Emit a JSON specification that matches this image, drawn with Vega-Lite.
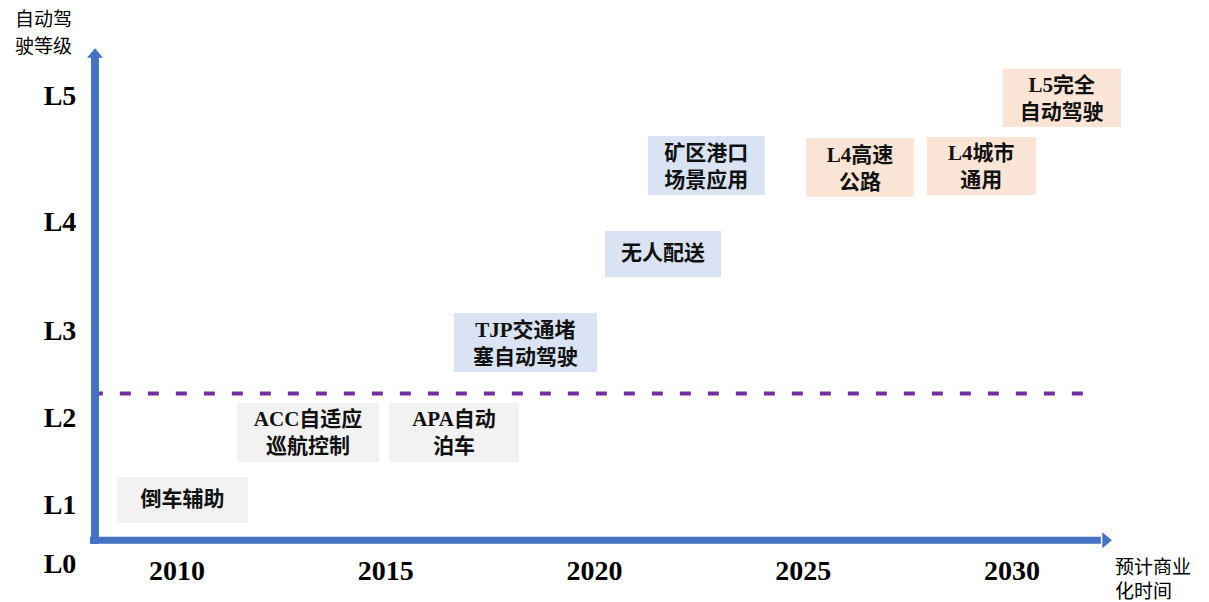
{
  "$schema": "https://vega.github.io/schema/vega-lite/v6.json",
  "width": 1209,
  "height": 602,
  "autosize": {"type": "none"},
  "padding": 0,
  "background": "white",
  "config": {"view": {"stroke": null}},
  "datasets": {
    "boxes": [
      {"label": "倒车辅助", "group": "辅助驾驶", "x0": 2008.56, "x1": 2011.70, "y0": 0.712, "y1": 1.333, "xc": 2010.13, "yc": 1.069},
      {"label": "ACC自适应\n巡航控制", "group": "辅助驾驶", "x0": 2011.44, "x1": 2014.84, "y0": 1.506, "y1": 2.184, "xc": 2013.14, "yc": 1.845},
      {"label": "APA自动\n泊车", "group": "辅助驾驶", "x0": 2015.08, "x1": 2018.19, "y0": 1.506, "y1": 2.184, "xc": 2016.635, "yc": 1.845},
      {"label": "TJP交通堵\n塞自动驾驶", "group": "场景应用", "x0": 2016.63, "x1": 2020.06, "y0": 2.540, "y1": 3.174, "xc": 2018.345, "yc": 2.879},
      {"label": "无人配送", "group": "场景应用", "x0": 2020.25, "x1": 2023.03, "y0": 3.505, "y1": 3.927, "xc": 2021.64, "yc": 3.716},
      {"label": "矿区港口\n场景应用", "group": "场景应用", "x0": 2021.28, "x1": 2024.08, "y0": 4.222, "y1": 4.690, "xc": 2022.68, "yc": 4.456},
      {"label": "L4高速\n公路", "group": "远期", "x0": 2025.07, "x1": 2027.65, "y0": 4.206, "y1": 4.675, "xc": 2026.36, "yc": 4.440},
      {"label": "L4城市\n通用", "group": "远期", "x0": 2027.96, "x1": 2030.57, "y0": 4.222, "y1": 4.683, "xc": 2029.265, "yc": 4.452},
      {"label": "L5完全\n自动驾驶", "group": "远期", "x0": 2029.78, "x1": 2032.61, "y0": 4.762, "y1": 5.222, "xc": 2031.195, "yc": 4.992}
    ],
    "levels": [
      {"lv": "L0", "level": 0},
      {"lv": "L1", "level": 1},
      {"lv": "L2", "level": 2},
      {"lv": "L3", "level": 3},
      {"lv": "L4", "level": 4},
      {"lv": "L5", "level": 5}
    ],
    "years": [
      {"year": 2010}, {"year": 2015}, {"year": 2020}, {"year": 2025}, {"year": 2030}
    ],
    "one": [{}]
  },
  "layer": [
    {
      "data": {"name": "boxes"},
      "mark": {"type": "rect"},
      "encoding": {
        "x": {"field": "x0", "type": "quantitative", "axis": null, "scale": {"domain": [2005.76, 2034.72], "nice": false, "zero": false}},
        "x2": {"field": "x1"},
        "y": {"field": "y0", "type": "quantitative", "axis": null, "scale": {"domain": [0, 1, 2, 3, 4, 5], "range": [565, 506, 419, 332, 223, 97], "nice": false, "zero": false}},
        "y2": {"field": "y1"},
        "color": {"field": "group", "type": "nominal", "legend": null, "scale": {"domain": ["辅助驾驶", "场景应用", "远期"], "range": ["#F2F2F2", "#DAE3F3", "#FBE5D6"]}}
      }
    },
    {
      "data": {"name": "boxes"},
      "transform": [{"filter": "indexof(datum.label, '\\n') < 0"}],
      "mark": {"type": "text", "font": "Liberation Serif, Noto Sans CJK SC", "fontWeight": "bold", "fontSize": 21, "align": "center", "baseline": "middle", "color": "#111111"},
      "encoding": {
        "x": {"field": "xc", "type": "quantitative", "axis": null, "scale": {"domain": [2005.76, 2034.72], "nice": false, "zero": false}},
        "y": {"field": "yc", "type": "quantitative", "axis": null, "scale": {"domain": [0, 1, 2, 3, 4, 5], "range": [565, 506, 419, 332, 223, 97], "nice": false, "zero": false}},
        "text": {"field": "label"}
      }
    },
    {
      "data": {"name": "boxes"},
      "transform": [{"filter": "indexof(datum.label, '\\n') >= 0"}],
      "mark": {"type": "text", "font": "Liberation Serif, Noto Sans CJK SC", "fontWeight": "bold", "fontSize": 21, "lineBreak": "\n", "lineHeight": 27, "dy": -12, "align": "center", "baseline": "middle", "color": "#111111"},
      "encoding": {
        "x": {"field": "xc", "type": "quantitative", "axis": null, "scale": {"domain": [2005.76, 2034.72], "nice": false, "zero": false}},
        "y": {"field": "yc", "type": "quantitative", "axis": null, "scale": {"domain": [0, 1, 2, 3, 4, 5], "range": [565, 506, 419, 332, 223, 97], "nice": false, "zero": false}},
        "text": {"field": "label"}
      }
    },
    {
      "data": {"name": "one"},
      "mark": {"type": "rule", "color": "#7030A0", "strokeWidth": 4, "strokeDash": [11, 17]},
      "encoding": {
        "x": {"datum": 2007.96, "type": "quantitative", "axis": null, "scale": {"domain": [2005.76, 2034.72], "nice": false, "zero": false}},
        "x2": {"datum": 2031.99},
        "y": {"datum": 2.293, "type": "quantitative", "axis": null, "scale": {"domain": [0, 1, 2, 3, 4, 5], "range": [565, 506, 419, 332, 223, 97], "nice": false, "zero": false}}
      }
    },
    {
      "data": {"name": "one"},
      "mark": {"type": "rule", "color": "#4472C4", "strokeWidth": 8},
      "encoding": {
        "x": {"datum": 2008.035, "type": "quantitative", "axis": null, "scale": {"domain": [2005.76, 2034.72], "nice": false, "zero": false}},
        "y": {"datum": 0.356, "type": "quantitative", "axis": null, "scale": {"domain": [0, 1, 2, 3, 4, 5], "range": [565, 506, 419, 332, 223, 97], "nice": false, "zero": false}},
        "y2": {"datum": 5.317}
      }
    },
    {
      "data": {"name": "one"},
      "mark": {"type": "rule", "color": "#4472C4", "strokeWidth": 7},
      "encoding": {
        "x": {"datum": 2007.916, "type": "quantitative", "axis": null, "scale": {"domain": [2005.76, 2034.72], "nice": false, "zero": false}},
        "x2": {"datum": 2032.13},
        "y": {"datum": 0.419, "type": "quantitative", "axis": null, "scale": {"domain": [0, 1, 2, 3, 4, 5], "range": [565, 506, 419, 332, 223, 97], "nice": false, "zero": false}}
      }
    },
    {
      "data": {"name": "one"},
      "mark": {"type": "point", "filled": true, "opacity": 1, "color": "#4472C4", "size": 256, "shape": "M-1,0.6L0,-0.6L1,0.6Z"},
      "encoding": {
        "x": {"datum": 2008.035, "type": "quantitative", "axis": null, "scale": {"domain": [2005.76, 2034.72], "nice": false, "zero": false}},
        "y": {"datum": 5.349, "type": "quantitative", "axis": null, "scale": {"domain": [0, 1, 2, 3, 4, 5], "range": [565, 506, 419, 332, 223, 97], "nice": false, "zero": false}}
      }
    },
    {
      "data": {"name": "one"},
      "mark": {"type": "point", "filled": true, "opacity": 1, "color": "#4472C4", "size": 256, "shape": "M-0.6,-1L0.6,0L-0.6,1Z"},
      "encoding": {
        "x": {"datum": 2032.28, "type": "quantitative", "axis": null, "scale": {"domain": [2005.76, 2034.72], "nice": false, "zero": false}},
        "y": {"datum": 0.419, "type": "quantitative", "axis": null, "scale": {"domain": [0, 1, 2, 3, 4, 5], "range": [565, 506, 419, 332, 223, 97], "nice": false, "zero": false}}
      }
    },
    {
      "data": {"name": "levels"},
      "mark": {"type": "text", "font": "Liberation Serif", "fontWeight": "bold", "fontSize": 28, "align": "center", "baseline": "middle", "color": "#000000"},
      "encoding": {
        "x": {"datum": 2007.197, "type": "quantitative", "axis": null, "scale": {"domain": [2005.76, 2034.72], "nice": false, "zero": false}},
        "y": {"field": "level", "type": "quantitative", "axis": null, "scale": {"domain": [0, 1, 2, 3, 4, 5], "range": [565, 506, 419, 332, 223, 97], "nice": false, "zero": false}},
        "text": {"field": "lv"}
      }
    },
    {
      "data": {"name": "years"},
      "mark": {"type": "text", "font": "Liberation Serif", "fontWeight": "bold", "fontSize": 28, "align": "center", "baseline": "middle", "color": "#000000"},
      "encoding": {
        "x": {"field": "year", "type": "quantitative", "axis": null, "scale": {"domain": [2005.76, 2034.72], "nice": false, "zero": false}},
        "y": {"datum": -0.119, "type": "quantitative", "axis": null, "scale": {"domain": [0, 1, 2, 3, 4, 5], "range": [565, 506, 419, 332, 223, 97], "nice": false, "zero": false}},
        "text": {"field": "year", "format": "d"}
      }
    },
    {
      "data": {"name": "one"},
      "mark": {"type": "text", "font": "Noto Sans CJK SC", "fontSize": 19, "lineBreak": "\n", "lineHeight": 27, "dy": -13.5, "align": "right", "baseline": "middle", "color": "#000000", "text": "自动驾\n驶等级"},
      "encoding": {
        "x": {"datum": 2007.485, "type": "quantitative", "axis": null, "scale": {"domain": [2005.76, 2034.72], "nice": false, "zero": false}},
        "y": {"datum": 5.504, "type": "quantitative", "axis": null, "scale": {"domain": [0, 1, 2, 3, 4, 5], "range": [565, 506, 419, 332, 223, 97], "nice": false, "zero": false}}
      }
    },
    {
      "data": {"name": "one"},
      "mark": {"type": "text", "font": "Noto Sans CJK SC", "fontSize": 19, "lineBreak": "\n", "lineHeight": 24, "dy": -12, "align": "left", "baseline": "middle", "color": "#000000", "text": "预计商业\n化时间"},
      "encoding": {
        "x": {"datum": 2032.47, "type": "quantitative", "axis": null, "scale": {"domain": [2005.76, 2034.72], "nice": false, "zero": false}},
        "y": {"datum": -0.246, "type": "quantitative", "axis": null, "scale": {"domain": [0, 1, 2, 3, 4, 5], "range": [565, 506, 419, 332, 223, 97], "nice": false, "zero": false}}
      }
    }
  ]
}
